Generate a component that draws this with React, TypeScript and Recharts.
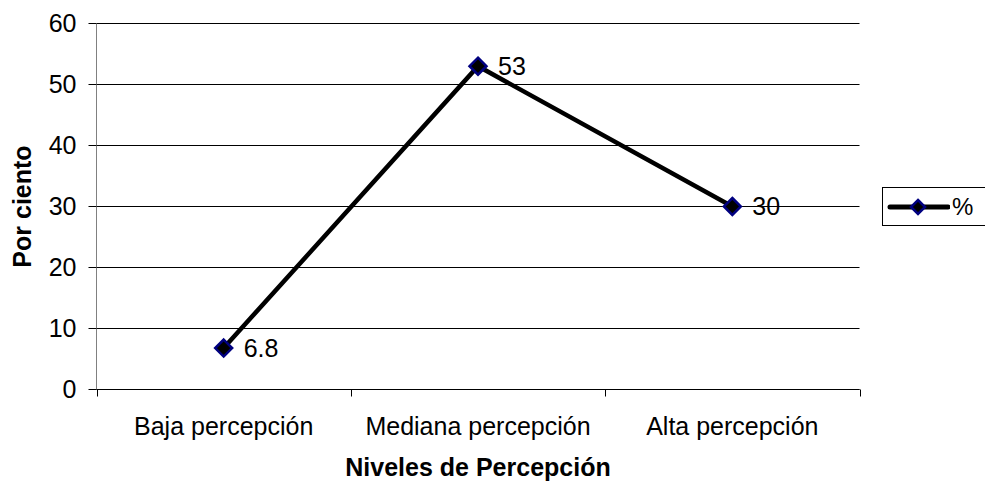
import { CartesianGrid, LabelList, Legend, Line, LineChart, XAxis, YAxis } from "recharts";

const categories = ["Baja percepción", "Mediana percepción", "Alta percepción"];
const percent = [6.8, 53, 30];
const yTicks = [0, 10, 20, 30, 40, 50, 60];

// eje X numérico: cada categoría ocupa una unidad, el punto va en el centro
const data = categories.map((name, i) => ({ x: i + 0.5, name, pct: percent[i] }));
const xTicks = [0, 0.5, 1, 1.5, 2, 2.5, 3];

const FONT = "'Liberation Sans', Arial, sans-serif";
const FS = 25;

function diamond(cx: number, cy: number, half: number) {
  return (
    <polygon
      points={`${cx},${cy - half} ${cx + half},${cy} ${cx},${cy + half} ${cx - half},${cy}`}
      fill="#000"
      stroke="#000080"
      strokeWidth={2.5}
    />
  );
}

// recharts pasa r=3 al punto personalizado, así que no se usa
function SeriesDot(props: { cx?: number; cy?: number }) {
  const { cx, cy } = props;
  if (cx == null || cy == null) return null;
  return diamond(cx, cy, 8.5);
}

function XTick(props: { x?: number; y?: number; payload?: { value: number } }) {
  const { x = 0, y = 0, payload } = props;
  const v = payload?.value ?? 0;
  if (Number.isInteger(v)) {
    const xx = Math.round(x) + 0.5;
    return <line x1={xx} y1={y - 8} x2={xx} y2={y - 1} stroke="#000" strokeWidth={1} />;
  }
  return (
    <text x={x} y={y} dy={37} textAnchor="middle" fontSize={FS} fill="#000" fontFamily={FONT}>
      {categories[Math.floor(v)]}
    </text>
  );
}

function LegendBox() {
  return (
    <div
      style={{
        width: 105,
        height: 39,
        border: "1px solid #000",
        boxSizing: "border-box",
        display: "flex",
        alignItems: "center",
        fontFamily: FONT,
        fontSize: 24,
        background: "#fff",
      }}
    >
      <svg width={64} height={20} style={{ marginLeft: 3 }}>
        <line x1={4} y1={10} x2={62} y2={10} stroke="#000" strokeWidth={5} strokeLinecap="round" />
        {diamond(32, 10, 7)}
      </svg>
      <span style={{ marginLeft: 2 }}>%</span>
    </div>
  );
}

export default function App() {
  return (
    <div style={{ position: "absolute", left: 0, top: 0, background: "#fff" }}>
      <LineChart
        width={985}
        height={487}
        data={data}
        margin={{ top: 23.5, right: 125.5, bottom: 0, left: 0.5 }}
      >
        <CartesianGrid vertical={false} stroke="#000" strokeWidth={1} />
        <XAxis
          dataKey="x"
          type="number"
          domain={[0, 3]}
          ticks={xTicks}
          interval={0}
          tick={<XTick />}
          tickLine={false}
          axisLine={{ stroke: "#000" }}
          height={97.5}
          label={{
            value: "Niveles de Percepción",
            position: "insideTop",
            offset: 69,
            fontSize: FS,
            fontWeight: "bold",
            fill: "#000",
            fontFamily: FONT,
          }}
        />
        <YAxis
          domain={[0, 60]}
          ticks={yTicks}
          width={96}
          tickSize={8}
          tickMargin={12}
          tickLine={{ stroke: "#000" }}
          axisLine={{ stroke: "#808080" }}
          tick={{ fontSize: FS, fill: "#000", fontFamily: FONT }}
          label={{
            value: "Por ciento",
            angle: -90,
            position: "insideLeft",
            offset: 22,
            fontSize: FS,
            fontWeight: "bold",
            fill: "#000",
            fontFamily: FONT,
            style: { textAnchor: "middle" },
          }}
        />
        <Legend
          layout="vertical"
          align="center"
          verticalAlign="middle"
          content={<LegendBox />}
          wrapperStyle={{ left: 882, top: 187, width: 105 }}
        />
        <Line
          dataKey="pct"
          name="%"
          stroke="#000"
          strokeWidth={4.5}
          dot={<SeriesDot />}
          activeDot={false}
          isAnimationActive={false}
        >
          <LabelList
            dataKey="pct"
            position="right"
            offset={20}
            fontSize={FS}
            fill="#000"
            fontFamily={FONT}
          />
        </Line>
      </LineChart>
    </div>
  );
}
